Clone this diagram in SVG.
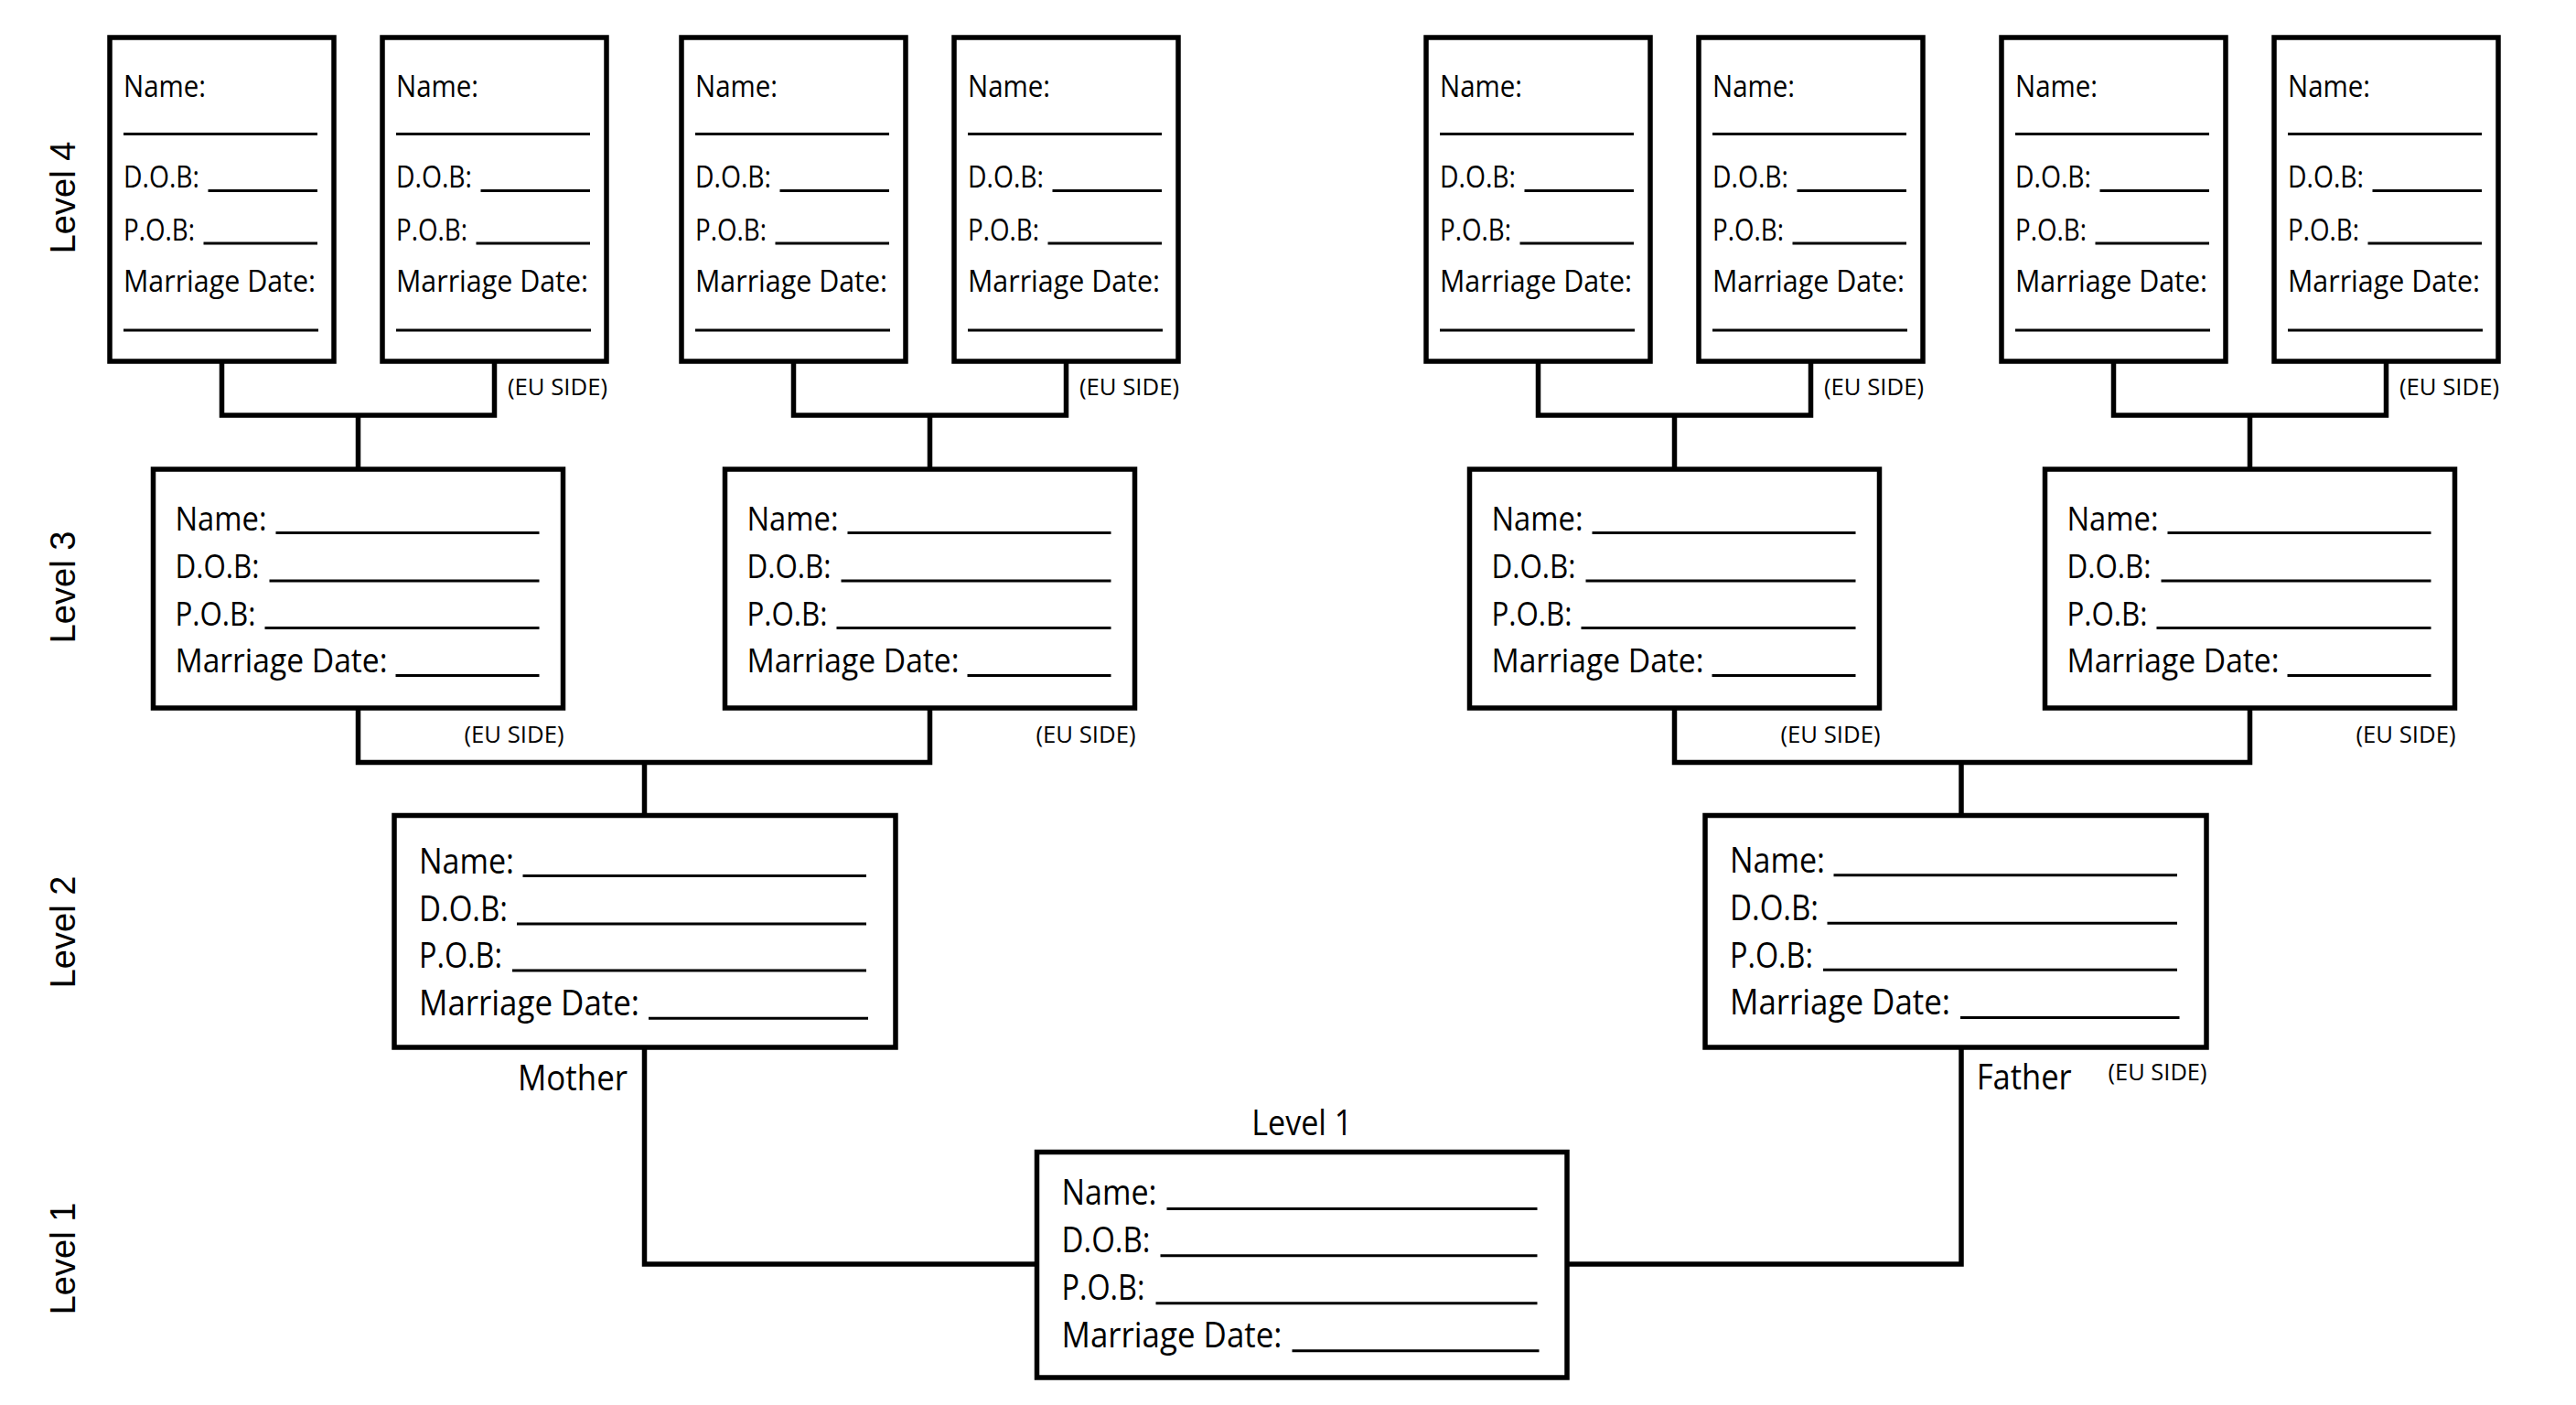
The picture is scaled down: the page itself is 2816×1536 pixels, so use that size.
<svg xmlns="http://www.w3.org/2000/svg" width="2816" height="1536" viewBox="0 0 2816 1536">
<style>
.box{fill:#fff;stroke:#000;stroke-width:5.5}
.ul{stroke:#000;stroke-width:3}
.con{fill:none;stroke:#000;stroke-width:5.5;stroke-linejoin:miter;stroke-linecap:butt}
text{font-family:"Open Sans","Liberation Sans",sans-serif;fill:#000}
.t4{font-size:33px}
.t3{font-size:37px}
.t2{font-size:39px}
.eu{font-size:26px}
.lv{font-family:"Liberation Sans",Arial,sans-serif;font-size:38px}
</style>
<rect x="0" y="0" width="2816" height="1536" fill="#fff"/>

<g id="level-labels">
<text class="lv" text-anchor="middle" transform="translate(82,216) rotate(-90)">Level 4</text>
<text class="lv" text-anchor="middle" transform="translate(82,642) rotate(-90)">Level 3</text>
<text class="lv" text-anchor="middle" transform="translate(82,1019) rotate(-90)">Level 2</text>
<text class="lv" text-anchor="middle" transform="translate(82,1376) rotate(-90)">Level 1</text>
</g>

<g id="connectors">
<polyline class="con" points="242.5,395 242.5,454 540.5,454 540.5,395"/>
<line class="con" x1="391.5" y1="454" x2="391.5" y2="513"/>
<polyline class="con" points="867.5,395 867.5,454 1165.5,454 1165.5,395"/>
<line class="con" x1="1016.5" y1="454" x2="1016.5" y2="513"/>
<polyline class="con" points="1681.5,395 1681.5,454 1979.5,454 1979.5,395"/>
<line class="con" x1="1830.5" y1="454" x2="1830.5" y2="513"/>
<polyline class="con" points="2310.5,395 2310.5,454 2608.5,454 2608.5,395"/>
<line class="con" x1="2459.5" y1="454" x2="2459.5" y2="513"/>
<polyline class="con" points="391.5,774 391.5,833.5 1016.5,833.5 1016.5,774"/>
<line class="con" x1="704.5" y1="833.5" x2="704.5" y2="891.5"/>
<polyline class="con" points="1830.5,774 1830.5,833.5 2459.5,833.5 2459.5,774"/>
<line class="con" x1="2144" y1="833.5" x2="2144" y2="891.5"/>
<polyline class="con" points="704.5,1145 704.5,1382 1133.5,1382"/>
<polyline class="con" points="2144,1145 2144,1382 1713,1382"/>
</g>

<!-- Level 4 -->
<g id="l4-1" transform="translate(120,41)">
<rect class="box" x="0" y="0" width="245" height="354"/>
<text class="t4" x="15" y="65" textLength="90" lengthAdjust="spacingAndGlyphs">Name:</text>
<line class="ul" x1="15" y1="105.5" x2="227" y2="105.5"/>
<text class="t4" x="15" y="164" textLength="83" lengthAdjust="spacingAndGlyphs">D.O.B:</text>
<line class="ul" x1="107.5" y1="167.5" x2="227" y2="167.5"/>
<text class="t4" x="15" y="222" textLength="78" lengthAdjust="spacingAndGlyphs">P.O.B:</text>
<line class="ul" x1="102.5" y1="225" x2="227" y2="225"/>
<text class="t4" x="15" y="278" textLength="210" lengthAdjust="spacingAndGlyphs">Marriage Date:</text>
<line class="ul" x1="15" y1="320" x2="228" y2="320"/>
</g>
<g id="l4-2" transform="translate(418,41)">
<rect class="box" x="0" y="0" width="245" height="354"/>
<text class="t4" x="15" y="65" textLength="90" lengthAdjust="spacingAndGlyphs">Name:</text>
<line class="ul" x1="15" y1="105.5" x2="227" y2="105.5"/>
<text class="t4" x="15" y="164" textLength="83" lengthAdjust="spacingAndGlyphs">D.O.B:</text>
<line class="ul" x1="107.5" y1="167.5" x2="227" y2="167.5"/>
<text class="t4" x="15" y="222" textLength="78" lengthAdjust="spacingAndGlyphs">P.O.B:</text>
<line class="ul" x1="102.5" y1="225" x2="227" y2="225"/>
<text class="t4" x="15" y="278" textLength="210" lengthAdjust="spacingAndGlyphs">Marriage Date:</text>
<line class="ul" x1="15" y1="320" x2="228" y2="320"/>
<text class="eu" x="246" y="391" text-anchor="end" textLength="109" lengthAdjust="spacingAndGlyphs">(EU SIDE)</text>
</g>
<g id="l4-3" transform="translate(745,41)">
<rect class="box" x="0" y="0" width="245" height="354"/>
<text class="t4" x="15" y="65" textLength="90" lengthAdjust="spacingAndGlyphs">Name:</text>
<line class="ul" x1="15" y1="105.5" x2="227" y2="105.5"/>
<text class="t4" x="15" y="164" textLength="83" lengthAdjust="spacingAndGlyphs">D.O.B:</text>
<line class="ul" x1="107.5" y1="167.5" x2="227" y2="167.5"/>
<text class="t4" x="15" y="222" textLength="78" lengthAdjust="spacingAndGlyphs">P.O.B:</text>
<line class="ul" x1="102.5" y1="225" x2="227" y2="225"/>
<text class="t4" x="15" y="278" textLength="210" lengthAdjust="spacingAndGlyphs">Marriage Date:</text>
<line class="ul" x1="15" y1="320" x2="228" y2="320"/>
</g>
<g id="l4-4" transform="translate(1043,41)">
<rect class="box" x="0" y="0" width="245" height="354"/>
<text class="t4" x="15" y="65" textLength="90" lengthAdjust="spacingAndGlyphs">Name:</text>
<line class="ul" x1="15" y1="105.5" x2="227" y2="105.5"/>
<text class="t4" x="15" y="164" textLength="83" lengthAdjust="spacingAndGlyphs">D.O.B:</text>
<line class="ul" x1="107.5" y1="167.5" x2="227" y2="167.5"/>
<text class="t4" x="15" y="222" textLength="78" lengthAdjust="spacingAndGlyphs">P.O.B:</text>
<line class="ul" x1="102.5" y1="225" x2="227" y2="225"/>
<text class="t4" x="15" y="278" textLength="210" lengthAdjust="spacingAndGlyphs">Marriage Date:</text>
<line class="ul" x1="15" y1="320" x2="228" y2="320"/>
<text class="eu" x="246" y="391" text-anchor="end" textLength="109" lengthAdjust="spacingAndGlyphs">(EU SIDE)</text>
</g>
<g id="l4-5" transform="translate(1559,41)">
<rect class="box" x="0" y="0" width="245" height="354"/>
<text class="t4" x="15" y="65" textLength="90" lengthAdjust="spacingAndGlyphs">Name:</text>
<line class="ul" x1="15" y1="105.5" x2="227" y2="105.5"/>
<text class="t4" x="15" y="164" textLength="83" lengthAdjust="spacingAndGlyphs">D.O.B:</text>
<line class="ul" x1="107.5" y1="167.5" x2="227" y2="167.5"/>
<text class="t4" x="15" y="222" textLength="78" lengthAdjust="spacingAndGlyphs">P.O.B:</text>
<line class="ul" x1="102.5" y1="225" x2="227" y2="225"/>
<text class="t4" x="15" y="278" textLength="210" lengthAdjust="spacingAndGlyphs">Marriage Date:</text>
<line class="ul" x1="15" y1="320" x2="228" y2="320"/>
</g>
<g id="l4-6" transform="translate(1857,41)">
<rect class="box" x="0" y="0" width="245" height="354"/>
<text class="t4" x="15" y="65" textLength="90" lengthAdjust="spacingAndGlyphs">Name:</text>
<line class="ul" x1="15" y1="105.5" x2="227" y2="105.5"/>
<text class="t4" x="15" y="164" textLength="83" lengthAdjust="spacingAndGlyphs">D.O.B:</text>
<line class="ul" x1="107.5" y1="167.5" x2="227" y2="167.5"/>
<text class="t4" x="15" y="222" textLength="78" lengthAdjust="spacingAndGlyphs">P.O.B:</text>
<line class="ul" x1="102.5" y1="225" x2="227" y2="225"/>
<text class="t4" x="15" y="278" textLength="210" lengthAdjust="spacingAndGlyphs">Marriage Date:</text>
<line class="ul" x1="15" y1="320" x2="228" y2="320"/>
<text class="eu" x="246" y="391" text-anchor="end" textLength="109" lengthAdjust="spacingAndGlyphs">(EU SIDE)</text>
</g>
<g id="l4-7" transform="translate(2188,41)">
<rect class="box" x="0" y="0" width="245" height="354"/>
<text class="t4" x="15" y="65" textLength="90" lengthAdjust="spacingAndGlyphs">Name:</text>
<line class="ul" x1="15" y1="105.5" x2="227" y2="105.5"/>
<text class="t4" x="15" y="164" textLength="83" lengthAdjust="spacingAndGlyphs">D.O.B:</text>
<line class="ul" x1="107.5" y1="167.5" x2="227" y2="167.5"/>
<text class="t4" x="15" y="222" textLength="78" lengthAdjust="spacingAndGlyphs">P.O.B:</text>
<line class="ul" x1="102.5" y1="225" x2="227" y2="225"/>
<text class="t4" x="15" y="278" textLength="210" lengthAdjust="spacingAndGlyphs">Marriage Date:</text>
<line class="ul" x1="15" y1="320" x2="228" y2="320"/>
</g>
<g id="l4-8" transform="translate(2486,41)">
<rect class="box" x="0" y="0" width="245" height="354"/>
<text class="t4" x="15" y="65" textLength="90" lengthAdjust="spacingAndGlyphs">Name:</text>
<line class="ul" x1="15" y1="105.5" x2="227" y2="105.5"/>
<text class="t4" x="15" y="164" textLength="83" lengthAdjust="spacingAndGlyphs">D.O.B:</text>
<line class="ul" x1="107.5" y1="167.5" x2="227" y2="167.5"/>
<text class="t4" x="15" y="222" textLength="78" lengthAdjust="spacingAndGlyphs">P.O.B:</text>
<line class="ul" x1="102.5" y1="225" x2="227" y2="225"/>
<text class="t4" x="15" y="278" textLength="210" lengthAdjust="spacingAndGlyphs">Marriage Date:</text>
<line class="ul" x1="15" y1="320" x2="228" y2="320"/>
<text class="eu" x="246" y="391" text-anchor="end" textLength="109" lengthAdjust="spacingAndGlyphs">(EU SIDE)</text>
</g>

<!-- Level 3 -->
<g id="l3-1" transform="translate(167.5,513)">
<rect class="box" x="0" y="0" width="448" height="261"/>
<text class="t3" x="24" y="67" textLength="100" lengthAdjust="spacingAndGlyphs">Name:</text>
<line class="ul" x1="134" y1="69.5" x2="422" y2="69.5"/>
<text class="t3" x="24" y="119" textLength="92" lengthAdjust="spacingAndGlyphs">D.O.B:</text>
<line class="ul" x1="127" y1="122" x2="422" y2="122"/>
<text class="t3" x="24" y="171" textLength="88" lengthAdjust="spacingAndGlyphs">P.O.B:</text>
<line class="ul" x1="122" y1="173.5" x2="422" y2="173.5"/>
<text class="t3" x="24" y="222" textLength="232" lengthAdjust="spacingAndGlyphs">Marriage Date:</text>
<line class="ul" x1="265" y1="225.5" x2="422" y2="225.5"/>
<text class="eu" x="449" y="298.7" text-anchor="end" textLength="109" lengthAdjust="spacingAndGlyphs">(EU SIDE)</text>
</g>
<g id="l3-2" transform="translate(792.5,513)">
<rect class="box" x="0" y="0" width="448" height="261"/>
<text class="t3" x="24" y="67" textLength="100" lengthAdjust="spacingAndGlyphs">Name:</text>
<line class="ul" x1="134" y1="69.5" x2="422" y2="69.5"/>
<text class="t3" x="24" y="119" textLength="92" lengthAdjust="spacingAndGlyphs">D.O.B:</text>
<line class="ul" x1="127" y1="122" x2="422" y2="122"/>
<text class="t3" x="24" y="171" textLength="88" lengthAdjust="spacingAndGlyphs">P.O.B:</text>
<line class="ul" x1="122" y1="173.5" x2="422" y2="173.5"/>
<text class="t3" x="24" y="222" textLength="232" lengthAdjust="spacingAndGlyphs">Marriage Date:</text>
<line class="ul" x1="265" y1="225.5" x2="422" y2="225.5"/>
<text class="eu" x="449" y="298.7" text-anchor="end" textLength="109" lengthAdjust="spacingAndGlyphs">(EU SIDE)</text>
</g>
<g id="l3-3" transform="translate(1606.5,513)">
<rect class="box" x="0" y="0" width="448" height="261"/>
<text class="t3" x="24" y="67" textLength="100" lengthAdjust="spacingAndGlyphs">Name:</text>
<line class="ul" x1="134" y1="69.5" x2="422" y2="69.5"/>
<text class="t3" x="24" y="119" textLength="92" lengthAdjust="spacingAndGlyphs">D.O.B:</text>
<line class="ul" x1="127" y1="122" x2="422" y2="122"/>
<text class="t3" x="24" y="171" textLength="88" lengthAdjust="spacingAndGlyphs">P.O.B:</text>
<line class="ul" x1="122" y1="173.5" x2="422" y2="173.5"/>
<text class="t3" x="24" y="222" textLength="232" lengthAdjust="spacingAndGlyphs">Marriage Date:</text>
<line class="ul" x1="265" y1="225.5" x2="422" y2="225.5"/>
<text class="eu" x="449" y="298.7" text-anchor="end" textLength="109" lengthAdjust="spacingAndGlyphs">(EU SIDE)</text>
</g>
<g id="l3-4" transform="translate(2235.5,513)">
<rect class="box" x="0" y="0" width="448" height="261"/>
<text class="t3" x="24" y="67" textLength="100" lengthAdjust="spacingAndGlyphs">Name:</text>
<line class="ul" x1="134" y1="69.5" x2="422" y2="69.5"/>
<text class="t3" x="24" y="119" textLength="92" lengthAdjust="spacingAndGlyphs">D.O.B:</text>
<line class="ul" x1="127" y1="122" x2="422" y2="122"/>
<text class="t3" x="24" y="171" textLength="88" lengthAdjust="spacingAndGlyphs">P.O.B:</text>
<line class="ul" x1="122" y1="173.5" x2="422" y2="173.5"/>
<text class="t3" x="24" y="222" textLength="232" lengthAdjust="spacingAndGlyphs">Marriage Date:</text>
<line class="ul" x1="265" y1="225.5" x2="422" y2="225.5"/>
<text class="eu" x="449" y="298.7" text-anchor="end" textLength="109" lengthAdjust="spacingAndGlyphs">(EU SIDE)</text>
</g>

<!-- Level 2 -->
<g id="mother" transform="translate(431,891.5)">
<rect class="box" x="0" y="0" width="548" height="253.5"/>
<text class="t2" x="27" y="63.5" textLength="104" lengthAdjust="spacingAndGlyphs">Name:</text>
<line class="ul" x1="140.5" y1="66" x2="516" y2="66"/>
<text class="t2" x="27" y="115.2" textLength="97" lengthAdjust="spacingAndGlyphs">D.O.B:</text>
<line class="ul" x1="134" y1="118.5" x2="516" y2="118.5"/>
<text class="t2" x="27" y="166.8" textLength="91" lengthAdjust="spacingAndGlyphs">P.O.B:</text>
<line class="ul" x1="129" y1="169.5" x2="516" y2="169.5"/>
<text class="t2" x="27" y="218.5" textLength="241" lengthAdjust="spacingAndGlyphs">Marriage Date:</text>
<line class="ul" x1="278" y1="221.8" x2="518" y2="221.8"/>
<text class="t2" x="255" y="300.2" text-anchor="end" textLength="120" lengthAdjust="spacingAndGlyphs">Mother</text>
</g>
<g id="father" transform="translate(1864,891.5)">
<rect class="box" x="0" y="0" width="548" height="253.5"/>
<text class="t2" x="27" y="62.5" textLength="104" lengthAdjust="spacingAndGlyphs">Name:</text>
<line class="ul" x1="140.5" y1="65.2" x2="516" y2="65.2"/>
<text class="t2" x="27" y="114.5" textLength="97" lengthAdjust="spacingAndGlyphs">D.O.B:</text>
<line class="ul" x1="133.5" y1="117.8" x2="516" y2="117.8"/>
<text class="t2" x="27" y="166" textLength="91" lengthAdjust="spacingAndGlyphs">P.O.B:</text>
<line class="ul" x1="129" y1="168.8" x2="516" y2="168.8"/>
<text class="t2" x="27" y="217.8" textLength="241" lengthAdjust="spacingAndGlyphs">Marriage Date:</text>
<line class="ul" x1="279" y1="221" x2="518.5" y2="221"/>
<text class="t2" x="296.7" y="299.2" textLength="104" lengthAdjust="spacingAndGlyphs">Father</text>
<text class="eu" x="548.5" y="289.5" text-anchor="end" textLength="108" lengthAdjust="spacingAndGlyphs">(EU SIDE)</text>
</g>

<!-- Level 1 -->
<g id="self" transform="translate(1133.5,1259.5)">
<rect class="box" x="0" y="0" width="579.5" height="246.5"/>
<text class="t2" x="289.75" y="-18.8" text-anchor="middle" textLength="110" lengthAdjust="spacingAndGlyphs">Level 1</text>
<text class="t2" x="27" y="57.2" textLength="104" lengthAdjust="spacingAndGlyphs">Name:</text>
<line class="ul" x1="142" y1="62" x2="547" y2="62"/>
<text class="t2" x="27" y="109.8" textLength="97" lengthAdjust="spacingAndGlyphs">D.O.B:</text>
<line class="ul" x1="135" y1="113.2" x2="547" y2="113.2"/>
<text class="t2" x="27" y="161.2" textLength="91" lengthAdjust="spacingAndGlyphs">P.O.B:</text>
<line class="ul" x1="130" y1="165.3" x2="547" y2="165.3"/>
<text class="t2" x="27" y="213.8" textLength="241" lengthAdjust="spacingAndGlyphs">Marriage Date:</text>
<line class="ul" x1="279" y1="217.2" x2="549" y2="217.2"/>
</g>
</svg>
